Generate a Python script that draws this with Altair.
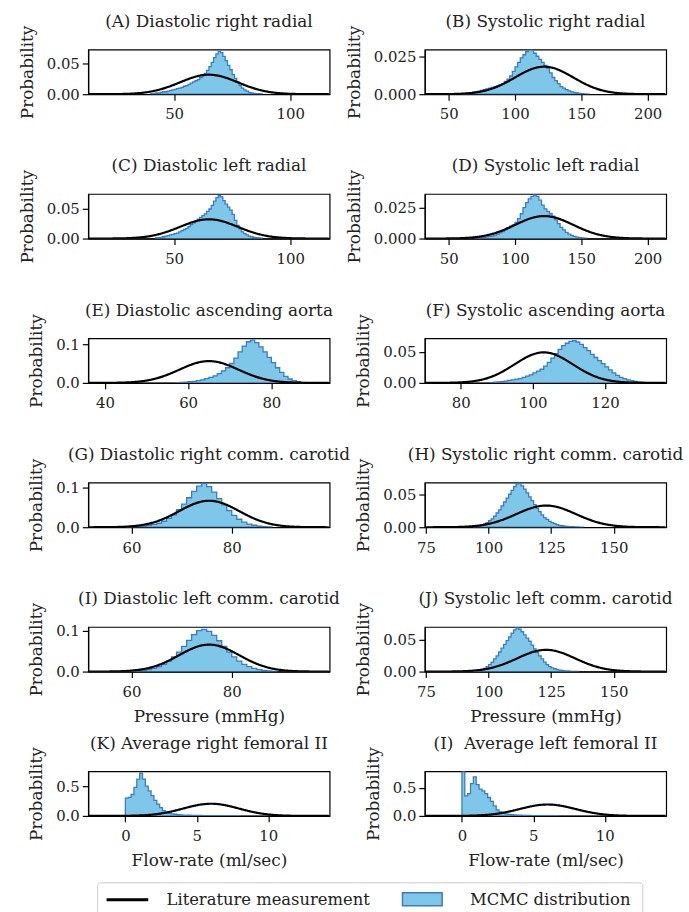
import altair as alt
import pandas as pd

FONT = "DejaVu Serif"
FILL = "#7fc7e8"
EDGE = "#3a7dbf"

titles = [
    "(A) Diastolic right radial", "(B) Systolic right radial",
    "(C) Diastolic left radial", "(D) Systolic left radial",
    "(E) Diastolic ascending aorta", "(F) Systolic ascending aorta",
    "(G) Diastolic right comm. carotid", "(H) Systolic right comm. carotid",
    "(I) Diastolic left comm. carotid", "(J) Systolic left comm. carotid",
    "(K) Average right femoral II", "(I)\u00a0\u00a0Average left femoral II",
]
x_titles = ["", "", "", "", "", "", "", "", "Pressure (mmHg)", "Pressure (mmHg)",
            "Flow-rate (ml/sec)", "Flow-rate (ml/sec)"]
x_domains = [[13, 117], [32, 214], [13, 117], [32, 214], [36, 94], [70, 137],
             [51.4, 99.5], [74.5, 171], [51.4, 99.5], [74.5, 171], [-2.6, 14.3], [-2.6, 14.3]]
x_ticks = [[50, 100], [50, 100, 150, 200], [50, 100], [50, 100, 150, 200],
           [40, 60, 80], [80, 100, 120], [60, 80], [75, 100, 125, 150],
           [60, 80], [75, 100, 125, 150], [0, 5, 10], [0, 5, 10]]
y_tops = [0.073, 0.0294, 0.074, 0.036, 0.115, 0.072, 0.112, 0.069, 0.11, 0.0706, 0.75, 0.8]
y_ticks = [[0, 0.05], [0, 0.025], [0, 0.05], [0, 0.025], [0, 0.1], [0, 0.05],
           [0, 0.1], [0, 0.05], [0, 0.1], [0, 0.05], [0, 0.5], [0, 0.5]]
y_formats = [".2f", ".3f", ".2f", ".3f", ".1f", ".2f", ".1f", ".2f", ".1f", ".2f", ".1f", ".1f"]

# literature measurement: mean and standard deviation
lit_mean = [65, 122, 65, 122, 65, 103, 75.5, 123, 75.5, 123, 6, 6]
lit_sd = [12.5, 22, 12.5, 22, 7.1, 8.1, 6.0, 11.9, 6.0, 11.6, 1.95, 1.95]

# MCMC histograms: first bin edge, bin width, bin heights
hist_start = [40, 60, 42, 70, 57, 88, 59, 94, 60, 94, 0, 0]
hist_width = [1, 2, 1, 2, 1, 1, 1, 1, 1, 1, 0.2, 0.2]
hist_A = [0.001, 0.001, 0.002, 0.002, 0.003, 0.004, 0.004, 0.005, 0.006, 0.007, 0.008, 0.009,
          0.010, 0.011, 0.013, 0.014, 0.016, 0.018, 0.020, 0.022, 0.024, 0.027, 0.030, 0.034,
          0.039, 0.045, 0.052, 0.060, 0.066, 0.070, 0.068, 0.062, 0.055, 0.047, 0.040, 0.032,
          0.026, 0.020, 0.014, 0.010, 0.007, 0.005, 0.003, 0.002, 0.0015, 0.001, 0.001, 0.0005]
hist_B = [0.0003, 0.0005, 0.0007, 0.001, 0.0013, 0.0017, 0.002, 0.0025, 0.003, 0.0035, 0.004,
          0.0045, 0.005, 0.0055, 0.006, 0.007, 0.0085, 0.010, 0.012, 0.015, 0.018, 0.021, 0.024,
          0.026, 0.028, 0.029, 0.029, 0.027, 0.025, 0.023, 0.021, 0.019, 0.017, 0.014, 0.011,
          0.009, 0.007, 0.005, 0.004, 0.003, 0.0022, 0.0016, 0.0012, 0.0008, 0.0005, 0.0003,
          0.0002, 0.0001]
hist_C = [0.001, 0.0015, 0.002, 0.003, 0.004, 0.005, 0.006, 0.007, 0.008, 0.009, 0.011, 0.013,
          0.015, 0.017, 0.020, 0.023, 0.026, 0.029, 0.032, 0.035, 0.038, 0.041, 0.045, 0.049,
          0.055, 0.062, 0.068, 0.071, 0.069, 0.063, 0.057, 0.052, 0.047, 0.040, 0.030, 0.022,
          0.016, 0.011, 0.008, 0.006, 0.004, 0.003, 0.002, 0.0015, 0.001, 0.0005]
hist_D = [0.0003, 0.0005, 0.0008, 0.001, 0.0013, 0.0017, 0.002, 0.0027, 0.0035, 0.0045, 0.0055,
          0.007, 0.0085, 0.010, 0.011, 0.013, 0.016, 0.020, 0.025, 0.029, 0.032, 0.034, 0.035,
          0.034, 0.031, 0.027, 0.024, 0.022, 0.020, 0.018, 0.015, 0.012, 0.009, 0.007, 0.005,
          0.0035, 0.0025, 0.0017, 0.0012, 0.0008, 0.0005, 0.0003]
hist_E = [0.0005, 0.001, 0.002, 0.003, 0.004, 0.006, 0.008, 0.011, 0.014, 0.018, 0.024, 0.031,
          0.039, 0.050, 0.064, 0.080, 0.095, 0.106, 0.110, 0.104, 0.093, 0.080, 0.066, 0.052,
          0.039, 0.027, 0.017, 0.010, 0.006, 0.003, 0.0015, 0.0005]
hist_F = [0.0005, 0.001, 0.0015, 0.002, 0.003, 0.004, 0.005, 0.006, 0.007, 0.009, 0.011, 0.013,
          0.016, 0.019, 0.022, 0.027, 0.033, 0.040, 0.047, 0.054, 0.060, 0.064, 0.067, 0.068,
          0.066, 0.062, 0.057, 0.052, 0.046, 0.041, 0.036, 0.031, 0.026, 0.021, 0.016, 0.012,
          0.009, 0.007, 0.005, 0.0035, 0.0025, 0.0015, 0.001, 0.0005]
hist_G = [0.0005, 0.001, 0.002, 0.003, 0.005, 0.007, 0.010, 0.015, 0.022, 0.031, 0.044, 0.058,
          0.074, 0.090, 0.103, 0.110, 0.102, 0.088, 0.072, 0.056, 0.042, 0.030, 0.020, 0.013,
          0.008, 0.005, 0.003, 0.0015, 0.0007]
hist_H = [0.0005, 0.001, 0.002, 0.003, 0.005, 0.007, 0.010, 0.013, 0.017, 0.022, 0.027, 0.033,
          0.039, 0.045, 0.051, 0.057, 0.063, 0.067, 0.068, 0.064, 0.059, 0.053, 0.047, 0.041,
          0.035, 0.029, 0.024, 0.019, 0.015, 0.012, 0.009, 0.007, 0.0055, 0.004, 0.003, 0.0023,
          0.0017, 0.0013, 0.001, 0.0008, 0.0006, 0.0004, 0.0003, 0.0002]
hist_I = [0.001, 0.002, 0.003, 0.005, 0.008, 0.012, 0.018, 0.026, 0.036, 0.048, 0.062, 0.077,
          0.091, 0.101, 0.104, 0.099, 0.089, 0.076, 0.062, 0.048, 0.036, 0.026, 0.018, 0.012,
          0.008, 0.005, 0.003, 0.0015, 0.0007]
hist_J = [0.0005, 0.001, 0.002, 0.003, 0.005, 0.008, 0.011, 0.015, 0.020, 0.025, 0.031, 0.037,
          0.043, 0.049, 0.055, 0.061, 0.066, 0.069, 0.067, 0.063, 0.058, 0.053, 0.048, 0.042,
          0.036, 0.030, 0.025, 0.020, 0.015, 0.011, 0.008, 0.006, 0.0045, 0.0033, 0.0024, 0.0017,
          0.0012, 0.0009, 0.0006, 0.0004, 0.0003, 0.0002]
hist_K = [0.30, 0.31, 0.36, 0.48, 0.62, 0.72, 0.62, 0.50, 0.42, 0.34, 0.26, 0.20, 0.14, 0.09,
          0.06, 0.045, 0.035, 0.028, 0.022, 0.018, 0.015, 0.013, 0.011, 0.010, 0.009, 0.008,
          0.007, 0.006, 0.006, 0.005, 0.005, 0.004, 0.004, 0.003, 0.003, 0.003, 0.002, 0.002,
          0.002, 0.001]
hist_L = [0.79, 0.36, 0.40, 0.58, 0.70, 0.56, 0.48, 0.45, 0.40, 0.33, 0.26, 0.18, 0.11, 0.07,
          0.045, 0.035, 0.028, 0.022, 0.018, 0.015, 0.013, 0.011, 0.010, 0.008, 0.007, 0.006,
          0.005, 0.005, 0.004, 0.004, 0.003, 0.003, 0.002, 0.002]
hists = [hist_A, hist_B, hist_C, hist_D, hist_E, hist_F, hist_G, hist_H, hist_I, hist_J, hist_K, hist_L]

LIT = "Literature measurement"
MCMC = "MCMC distribution"
RECT = "M-0.8,-0.65L3.2,-0.65L3.2,0.65L-0.8,0.65Z"
LINE = "M-0.8,0L3.4,0"

# the stroke legend carries both entries (and the frame); the fill legend adds the patch
stroke_scale = alt.Scale(domain=[LIT, MCMC], range=["black", "transparent"])
fill_scale = alt.Scale(domain=[MCMC], range=[FILL])
line_legend = alt.Legend(
    title=None, orient="none", legendX=9, legendY=840, direction="horizontal", columns=2,
    columnPadding=33, labelFont=FONT, labelFontSize=16.5, labelColor="#222222",
    symbolSize=400, labelOffset=41, symbolType=LINE, symbolStrokeWidth=3, padding=6,
    strokeColor="#cccccc", cornerRadius=3, labelLimit=400,
    labelExpr=f"datum.label == '{MCMC}' ? datum.label + '\u00a0\u200b' : datum.label",
)
hist_legend = alt.Legend(
    title=None, orient="none", legendX=308, legendY=840, direction="horizontal",
    labelFont=FONT, labelFontSize=16.5, labelOpacity=0, symbolSize=400, labelOffset=41,
    symbolType=RECT, symbolStrokeColor=EDGE, symbolStrokeWidth=1.5, symbolOpacity=1,
    padding=6, labelExpr="''", zindex=2,
)

panels = []
for i in range(12):
    h = hists[i]
    edges = [hist_start[i] + k * hist_width[i] for k in range(len(h) + 1)]
    df = pd.DataFrame({"x": edges, "p": list(h) + [h[-1]], "series": MCMC})
    xs = alt.Scale(domain=x_domains[i], nice=False, zero=False)
    ys = alt.Scale(domain=[0, y_tops[i]], nice=False, zero=False)
    xaxis = alt.Axis(values=x_ticks[i], title=x_titles[i] if x_titles[i] else None, format="d")
    yaxis = alt.Axis(values=y_ticks[i], title="Probability", format=y_formats[i])
    hist = alt.Chart(df).mark_area(
        interpolate="step-after", stroke=EDGE, strokeWidth=1.3, opacity=1, clip=True
    ).encode(
        x=alt.X("x:Q", scale=xs, axis=xaxis),
        y=alt.Y("p:Q", scale=ys, axis=yaxis),
        fill=alt.Fill("series:N", scale=fill_scale, legend=hist_legend),
    )
    x0, x1 = x_domains[i]
    m, s = lit_mean[i], lit_sd[i]
    curve = alt.Chart(alt.sequence(x0, x1, (x1 - x0) / 300.0, as_="x")).transform_calculate(
        p=f"exp(-0.5*pow((datum.x-({m}))/{s},2))/({s}*sqrt(2*PI))",
        series=f"'{LIT}'",
    ).mark_line(strokeWidth=2.2, clip=True).encode(
        x=alt.X("x:Q", scale=xs, axis=xaxis),
        y=alt.Y("p:Q", scale=ys, axis=yaxis),
        stroke=alt.Stroke("series:N", scale=stroke_scale, legend=line_legend),
    )
    panel = alt.layer(hist, curve).properties(
        width=243.5, height=45,
        title=alt.TitleParams(titles[i], font=FONT, fontSize=17, fontWeight="normal",
                              color="#222222", anchor="middle", frame="group", offset=-6),
    )
    panels.append(panel)

chart = alt.concat(
    *panels, columns=2, spacing={"row": 100.6, "column": 95.5}, bounds="flush"
).resolve_scale(x="independent", y="independent", fill="shared", stroke="shared").properties(
    padding={"left": 18, "top": 8, "right": 5, "bottom": 5}
).configure_view(
    stroke="black", strokeWidth=1.2
).configure_axis(
    labelFont=FONT, labelFontSize=15, labelColor="#222222", titleFont=FONT, titleFontSize=17,
    titleFontWeight="normal", titleColor="#222222", tickColor="black", domainColor="black",
    tickSize=6, tickWidth=1.2, domainWidth=1.2, grid=False, labelPadding=3, labelFlush=False,
    labelOverlap=False
).configure_axisY(
    titlePadding=10
).configure_axisX(
    titlePadding=9, labelPadding=7
)

chart.save("out.html", embed_options={"renderer": "svg", "actions": False})
